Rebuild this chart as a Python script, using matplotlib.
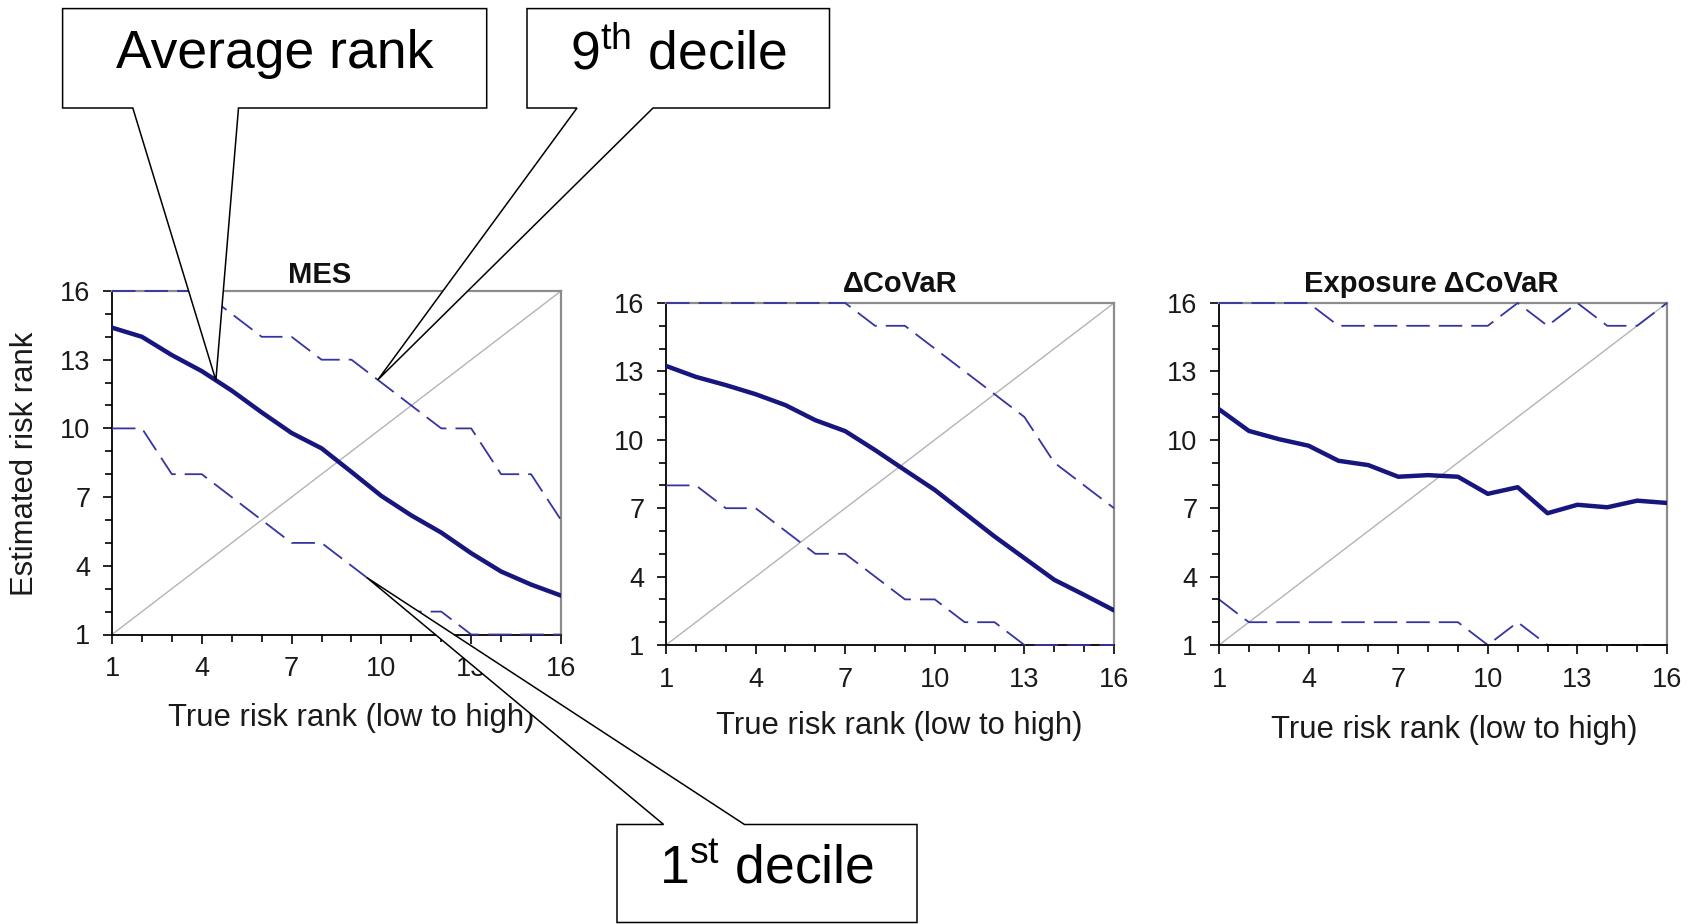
import numpy as np
import matplotlib
matplotlib.use("Agg")
import matplotlib.pyplot as plt
from matplotlib.patches import Polygon
from matplotlib.transforms import IdentityTransform
from matplotlib.ticker import MultipleLocator, FixedLocator

plt.rcParams['font.family'] = ['Liberation Sans', 'DejaVu Sans']
plt.rcParams['mathtext.fontset'] = 'custom'
plt.rcParams['mathtext.rm'] = 'Liberation Sans'

# ---- data ----------------------------------------------------------------
rank = np.arange(1, 17)
diag = rank  # true rank == estimated rank reference line

mes_avg = [14.4, 14.0, 13.2, 12.5, 11.65, 10.7, 9.8, 9.13, 8.1, 7.05, 6.2, 5.45, 4.55, 3.75, 3.18, 2.7]
mes_p90 = [16, 16, 16, 16, 15, 14, 14, 13, 13, 12, 11, 10, 10, 8, 8, 6]
mes_p10 = [10, 10, 8, 8, 7, 6, 5, 5, 4, 3, 2, 2, 1, 1, 1, 1]

covar_avg = [13.24, 12.76, 12.4, 12.0, 11.52, 10.86, 10.38, 9.55, 8.67, 7.8, 6.78, 5.76, 4.81, 3.86, 3.2, 2.52]
covar_p90 = [16, 16, 16, 16, 16, 16, 16, 15, 15, 14, 13, 12, 11, 9, 8, 7]
covar_p10 = [8, 8, 7, 7, 6, 5, 5, 4, 3, 3, 2, 2, 1, 1, 1, 1]

exp_avg = [11.34, 10.39, 10.03, 9.74, 9.08, 8.89, 8.38, 8.45, 8.38, 7.63, 7.92, 6.78, 7.15, 7.04, 7.33, 7.23]
exp_p90 = [16, 16, 16, 16, 15, 15, 15, 15, 15, 15, 16, 15, 16, 15, 15, 16]
exp_p10 = [3, 2, 2, 2, 2, 2, 2, 2, 2, 1, 2, 1, 1, 1, 1, 1]

titles = ["MES", "ΔCoVaR", "Exposure ΔCoVaR"]
xlabel = "True risk rank (low to high)"
ylabel = "Estimated risk rank"
major_ticks = [1, 4, 7, 10, 13, 16]

# ---- layout (pixels, top-left origin) -------------------------------------
W, H = 1692, 924
axes_px = [(112, 291, 561, 634.5), (666, 303, 1114, 645), (1219, 303, 1667, 645)]
title_px = [(320, 275), (900, 284), (1431, 284)]
xlabel_px = [(351, 718), (899, 726), (1454, 730)]

AVG_C = "#16167e"
DEC_C = "#3535a0"

fig = plt.figure(figsize=(W / 100, H / 100), dpi=100)
fig.patch.set_facecolor("white")


def fx(x):
    return x / W


def fy(y):
    return 1 - y / H


series = [(mes_avg, mes_p90, mes_p10), (covar_avg, covar_p90, covar_p10), (exp_avg, exp_p90, exp_p10)]
axes = []
for i, ((l, t, r, b), (avg, p90, p10)) in enumerate(zip(axes_px, series)):
    ax = fig.add_axes([fx(l), fy(b), (r - l) / W, (b - t) / H])
    ax.plot(rank, diag, color="#b4b4b4", lw=1.0, zorder=1.5)
    ax.plot(rank, avg, color=AVG_C, lw=3.2, zorder=4, solid_joinstyle="round")
    ax.plot(rank, p90, color=DEC_C, lw=1.3, ls=(0, (13, 5)), zorder=3, clip_on=False)
    ax.plot(rank, p10, color=DEC_C, lw=1.3, ls=(0, (13, 5)), zorder=2 if i == 2 else 3, clip_on=False)
    ax.set_xlim(1, 16)
    ax.set_ylim(1, 16)
    for s in ("left", "bottom"):
        ax.spines[s].set_color("black")
        ax.spines[s].set_linewidth(1.3)
    for s in ("top", "right"):
        ax.spines[s].set_color("#8c8c8c")
        ax.spines[s].set_linewidth(1.6)
    ax.xaxis.set_major_locator(FixedLocator(major_ticks))
    ax.yaxis.set_major_locator(FixedLocator(major_ticks))
    ax.xaxis.set_minor_locator(MultipleLocator(1))
    ax.yaxis.set_minor_locator(MultipleLocator(1))
    ax.tick_params(which="major", direction="out", length=6.5, width=1.2, color="black",
                   labelsize=19.5, labelcolor="#1a1a1a")
    ax.tick_params(which="minor", direction="out", length=5, width=1.2, color="black")
    ax.tick_params(axis="x", which="major", pad=9)
    ax.tick_params(axis="y", which="major", pad=9)
    axes.append(ax)

for (x, y), ttl in zip(title_px, titles):
    fig.text(fx(x), fy(y), ttl, ha="center", va="center", fontsize=21, fontweight="bold", color="#111111")
for (x, y) in xlabel_px:
    fig.text(fx(x), fy(y), xlabel, ha="center", va="center", fontsize=22.3, color="#1a1a1a")
fig.text(fx(25), fy(464), ylabel, ha="center", va="center", rotation=90, fontsize=22.3, color="#1a1a1a")

# ---- callouts --------------------------------------------------------------
ax1 = axes[0]


def tip(xv, yser):
    return ax1.transData.transform((xv, np.interp(xv, rank, yser)))


def callout(box, base, tip_disp, side, label):
    l, t, r, b = box
    b0, b1 = base
    tx, ty = tip_disp
    if side == "bottom":
        pts = [(l, t), (r, t), (r, b), (b1, b), None, (b0, b), (l, b)]
    else:
        pts = [(l, t), (b0, t), None, (b1, t), (r, t), (r, b), (l, b)]
    verts = [(tx, ty) if p is None else (p[0], H - p[1]) for p in pts]
    poly = Polygon(verts, closed=True, facecolor="white", edgecolor="black", lw=1.1,
                   transform=IdentityTransform(), zorder=10)
    fig.add_artist(poly)
    fig.text(fx((l + r) / 2), fy((t + b) / 2 - 4), label, ha="center", va="center",
             fontsize=38.5, color="black", zorder=11)


callout((62.6, 8.6, 486.7, 108), (132.8, 238.5), tip(4.47, mes_avg), "bottom", "Average rank")
callout((527, 8.6, 829.5, 108), (577, 653), tip(9.88, mes_p90), "bottom", r"9$^{\mathrm{th}}$ decile")
callout((617, 824.5, 917, 922.5), (663.6, 744.5), tip(9.52, mes_p10), "top", r"1$^{\mathrm{st}}$ decile")

fig.savefig("out.png", dpi=100, facecolor="white")
